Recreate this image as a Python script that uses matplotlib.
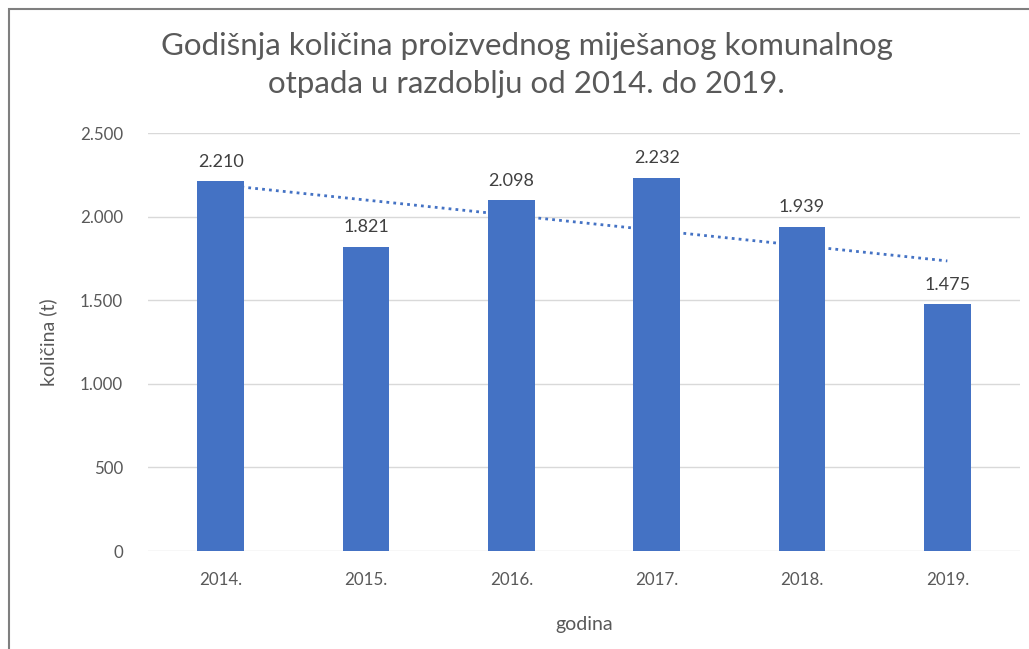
import numpy as np
import matplotlib.pyplot as plt
from matplotlib.patches import Rectangle

years = ['2014.', '2015.', '2016.', '2017.', '2018.', '2019.']
amounts = [2210, 1821, 2098, 2232, 1939, 1475]
value_labels = ['2.210', '1.821', '2.098', '2.232', '1.939', '1.475']
y_ticks = [0, 500, 1000, 1500, 2000, 2500]
y_tick_labels = ['0', '500', '1.000', '1.500', '2.000', '2.500']

plt.rcParams['font.family'] = ['Lato', 'DejaVu Sans']

fig = plt.figure(figsize=(10.29, 6.49), dpi=100)
ax = fig.add_axes([148 / 1029, 1 - 551 / 649, (1020 - 148) / 1029, (551 - 133) / 649])

x = np.arange(len(years))

# linear trendline, drawn behind the bars
k, b = np.polyfit(x, amounts, 1)
ax.plot(x, k * x + b, linestyle=(0, (1, 1.5)), color='#4472C4', linewidth=2, zorder=1)

ax.bar(x, amounts, width=0.32, color='#4472C4', zorder=2)

for xi, v, lab in zip(x, amounts, value_labels):
    ax.text(xi, v + 70, lab, ha='center', va='bottom', fontsize=13, color='#404040')

ax.set_xlim(-0.5, len(years) - 0.5)
ax.set_ylim(0, 2500)
ax.set_yticks(y_ticks)
ax.set_yticklabels(y_tick_labels)
ax.set_xticks(x)
ax.set_xticklabels(years)
ax.tick_params(axis='both', length=0, labelsize=12.2, labelcolor='#595959')
ax.tick_params(axis='y', pad=18)
ax.tick_params(axis='x', pad=15)
ax.grid(axis='y', color='#D9D9D9', linewidth=1, zorder=0)
ax.set_axisbelow(True)
for s in ax.spines.values():
    s.set_visible(False)

ax.set_xlabel('godina', fontsize=14, color='#595959', labelpad=20)
ax.set_ylabel('količina (t)', fontsize=14, color='#595959', labelpad=16)

fig.text(0.512, 1 - 65 / 649, 'Godišnja količina proizvednog miješanog komunalnog\notpada u razdoblju od 2014. do 2019.',
         ha='center', va='center', fontsize=22.5, color='#595959', linespacing=1.45)

# outer border
fig.patches.append(Rectangle((9 / 1029, -0.05), 1.2, 1 - 9 / 649 + 0.05, transform=fig.transFigure,
                             fill=False, edgecolor='#7F7F7F', linewidth=1.5))

fig.savefig('out.png', dpi=100)
